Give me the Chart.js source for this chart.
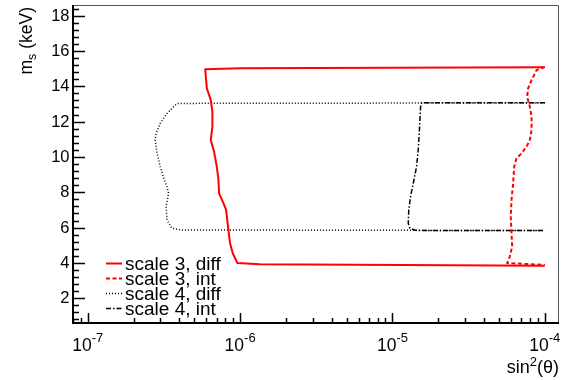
<!DOCTYPE html>
<html><head><meta charset="utf-8">
<script src="https://cdn.jsdelivr.net/npm/chart.js@4"></script>
<style>html,body{margin:0;padding:0;background:#fff;overflow:hidden}</style>
</head><body>
<canvas id="c" width="563" height="380"></canvas>
<script>
// ---- data (sin^2(theta), m_s in keV) ----
const s3DiffX = [1e-4, 1e-6, 5.9e-7, 6.05e-7, 6.42e-7, 6.58e-7, 6.58e-7, 6.42e-7, 6.75e-7, 7.03e-7, 7.21e-7, 7.28e-7, 7.77e-7, 8.09e-7, 8.38e-7, 8.59e-7, 8.95e-7, 9.6e-7, 1.35e-6, 1e-4];
const s3DiffY = [15.08, 15.02, 14.97, 13.88, 13.22, 12.55, 11.71, 10.96, 10.29, 9.45, 8.70, 7.94, 7.38, 7.0, 5.87, 5.12, 4.55, 3.99, 3.92, 3.84];

const s3IntX = [1e-4, 8.83e-5, 8.19e-5, 7.77e-5, 7.66e-5, 7.98e-5, 8.19e-5, 8.19e-5, 7.98e-5, 7.59e-5, 7.03e-5, 6.52e-5, 6.3e-5, 6.2e-5, 6.05e-5, 5.98e-5, 6.05e-5, 6.11e-5, 5.89e-5, 5.66e-5, 1e-4];
const s3IntY = [15.10, 14.91, 14.35, 13.88, 13.40, 12.84, 12.27, 11.52, 10.96, 10.58, 10.20, 9.92, 9.45, 8.51, 7.57, 6.62, 5.68, 4.93, 4.36, 3.99, 3.89];

const s4DiffX = [1e-4, 3.94e-7, 3.75e-7, 3.31e-7, 2.99e-7, 2.81e-7, 2.77e-7, 2.84e-7, 2.99e-7, 3.18e-7, 3.31e-7, 3.39e-7, 3.27e-7, 3.31e-7, 3.56e-7, 4.05e-7, 1e-4];
const s4DiffY = [13.06, 13.03, 12.93, 12.46, 11.90, 11.33, 10.96, 10.29, 9.45, 8.70, 8.32, 7.94, 7.19, 6.44, 5.97, 5.87, 5.83];

const s4IntX = [1e-4, 1.554e-5, 1.53e-5, 1.515e-5, 1.50e-5, 1.476e-5, 1.44e-5, 1.37e-5, 1.315e-5, 1.28e-5, 1.27e-5, 1.30e-5, 1.44e-5, 1e-4];
const s4IntY = [13.06, 13.06, 12.84, 12.09, 11.33, 10.39, 9.45, 8.51, 7.75, 7.0, 6.25, 5.97, 5.83, 5.83];

const seriesNames = ['scale 3, diff', 'scale 3, int', 'scale 4, diff', 'scale 4, int'];
const xTickValues = [1e-7, 1e-6, 1e-5, 1e-4];
const xTickBase = '10';
const xTickExponents = ['-7', '-6', '-5', '-4'];
const yTickValues = [2, 4, 6, 8, 10, 12, 14, 16, 18];
const xRange = [8e-8, 1.24e-4];
const yRange = [0.6, 18.6];

// ---- build ----
const toPts = (xs, ys) => xs.map((x, i) => ({x: x, y: ys[i]}));
const styles = [
  {borderColor: '#ff0000', borderWidth: 2, borderDash: []},
  {borderColor: '#ff0000', borderWidth: 2, borderDash: [4, 2.5]},
  {borderColor: '#000000', borderWidth: 1.5, borderDash: [1, 2]},
  {borderColor: '#000000', borderWidth: 1.5, borderDash: [5, 2, 1.5, 2]}
];
const seriesData = [[s3DiffX, s3DiffY], [s3IntX, s3IntY], [s4DiffX, s4DiffY], [s4IntX, s4IntY]];
const datasets = seriesData.map((d, i) => Object.assign({
  label: seriesNames[i],
  data: toPts(d[0], d[1]),
  showLine: true,
  fill: false,
  tension: 0,
  pointRadius: 0,
  borderJoinStyle: 'round'
}, styles[i]));

const FONT = '"Liberation Sans", Arial, Helvetica, sans-serif';

const rootAxes = {
  id: 'rootAxes',
  afterDraw(chart) {
    const ctx = chart.ctx, a = chart.chartArea;
    const xs = chart.scales.x, ys = chart.scales.y;
    ctx.save();
    // frame
    ctx.strokeStyle = '#555';
    ctx.lineWidth = 1;
    ctx.beginPath();
    ctx.moveTo(a.left, a.top + 0.5);
    ctx.lineTo(a.right - 0.5, a.top + 0.5);
    ctx.lineTo(a.right - 0.5, a.bottom);
    ctx.stroke();
    ctx.strokeStyle = '#000';
    ctx.lineWidth = 2;
    ctx.beginPath();
    ctx.moveTo(a.left, a.top);
    ctx.lineTo(a.left, a.bottom);
    ctx.lineTo(a.right, a.bottom);
    ctx.stroke();

    // y ticks
    ctx.lineWidth = 1.5;
    ctx.beginPath();
    const kmin = Math.ceil(yRange[0] / 0.4 - 1e-6), kmax = Math.floor(yRange[1] / 0.4 + 1e-6);
    for (let k = kmin; k <= kmax; k++) {
      const v = k * 0.4;
      const py = Math.round(ys.getPixelForValue(v)) + 0.5;
      const len = (k % 5 === 0) ? 12 : 6;
      ctx.moveTo(a.left, py);
      ctx.lineTo(a.left + len, py);
    }
    // x ticks
    for (let d = -8; d <= -4; d++) {
      for (let m = 1; m <= 9; m++) {
        const v = m * Math.pow(10, d);
        if (v < xRange[0] * 0.999 || v > xRange[1]) continue;
        const px = Math.round(xs.getPixelForValue(v)) + 0.5;
        const len = (m === 1) ? 10 : 5;
        ctx.moveTo(px, a.bottom);
        ctx.lineTo(px, a.bottom - len);
      }
    }
    ctx.stroke();

    // y labels
    ctx.fillStyle = '#000';
    ctx.font = '16.5px ' + FONT;
    ctx.textAlign = 'right';
    ctx.textBaseline = 'middle';
    yTickValues.forEach(v => {
      ctx.fillText(String(v), a.left - 3.5, ys.getPixelForValue(v) + 0.5);
    });

    // x labels with superscripts
    ctx.textBaseline = 'alphabetic';
    ctx.textAlign = 'left';
    xTickValues.forEach((v, i) => {
      const px = xs.getPixelForValue(v);
      ctx.font = '17.5px ' + FONT;
      const wb = ctx.measureText(xTickBase).width;
      ctx.font = '13px ' + FONT;
      const we = ctx.measureText(xTickExponents[i]).width;
      const x0 = px - (wb + we) / 2;
      ctx.font = '17.5px ' + FONT;
      ctx.fillText(xTickBase, x0, 351);
      ctx.font = '13px ' + FONT;
      ctx.fillText(xTickExponents[i], x0 + wb, 342);
    });

    // x title: sin^2(theta)
    {
      const parts = [['sin', 18, 0], ['2', 13, -7.5], ['(\u03b8)', 18, 0]];
      let total = 0;
      parts.forEach(p => { ctx.font = p[1] + 'px ' + FONT; total += ctx.measureText(p[0]).width; });
      let x = 559 - total;
      parts.forEach(p => {
        ctx.font = p[1] + 'px ' + FONT;
        ctx.fillText(p[0], x, 373 + p[2]);
        x += ctx.measureText(p[0]).width;
      });
    }

    // y title: m_s (keV)
    {
      const parts = [['m', 17.5, 0], ['s', 12.5, 4], [' (keV)', 17.5, 0]];
      let total = 0;
      parts.forEach(p => { ctx.font = p[1] + 'px ' + FONT; total += ctx.measureText(p[0]).width; });
      ctx.save();
      ctx.translate(32, 7);
      ctx.rotate(-Math.PI / 2);
      let x = -total;
      parts.forEach(p => {
        ctx.font = p[1] + 'px ' + FONT;
        ctx.fillText(p[0], x, p[2]);
        x += ctx.measureText(p[0]).width;
      });
      ctx.restore();
    }

    // legend
    ctx.font = '19px ' + FONT;
    ctx.textBaseline = 'middle';
    ctx.textAlign = 'left';
    chart.data.datasets.forEach((ds, i) => {
      const y = 263.5 + i * 15;
      ctx.strokeStyle = ds.borderColor;
      ctx.lineWidth = ds.borderWidth;
      ctx.setLineDash(ds.borderDash || []);
      ctx.beginPath();
      ctx.moveTo(106, y);
      ctx.lineTo(122, y);
      ctx.stroke();
      ctx.setLineDash([]);
      ctx.fillStyle = '#000';
      ctx.fillText(ds.label, 125, y + 1);
    });
    ctx.restore();
  }
};

new Chart(document.getElementById('c'), {
  type: 'scatter',
  data: {datasets: datasets},
  options: {
    responsive: false,
    animation: false,
    devicePixelRatio: 1,
    layout: {padding: {left: 73, right: 4, top: 5, bottom: 57}},
    plugins: {legend: {display: false}, tooltip: {enabled: false}},
    scales: {
      x: {type: 'logarithmic', min: xRange[0], max: xRange[1], display: false},
      y: {type: 'linear', min: yRange[0], max: yRange[1], display: false}
    }
  },
  plugins: [rootAxes]
});
</script>
</body></html>
